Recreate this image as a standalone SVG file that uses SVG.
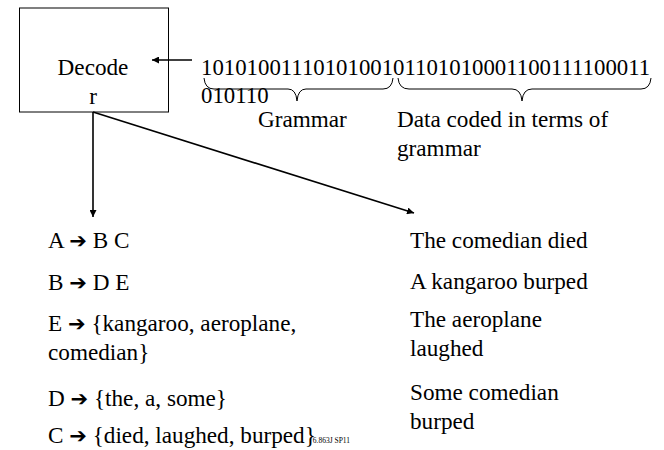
<svg xmlns="http://www.w3.org/2000/svg" width="664" height="450" viewBox="0 0 664 450" font-family="'Liberation Serif', 'Times New Roman', serif">
<style>
text{font-family:"Liberation Serif","Times New Roman",Tinos,serif;font-size:23.2px;fill:#000}
.bits{font-size:22.8px}
.ar{font-family:"DejaVu Sans",sans-serif;font-size:21px}
.sm{font-size:7.5px}
.ln{stroke:#000;stroke-width:1.6;fill:none}
.br{stroke:#000;stroke-width:1;fill:none}
</style>
<defs>
<marker id="ah" viewBox="0 0 10 10" refX="10" refY="5" markerWidth="7" markerHeight="7" markerUnits="userSpaceOnUse" orient="auto">
<path d="M0,0 L10,5 L0,10 z" fill="#000"/>
</marker>
</defs>
<g id="decoder">
<rect x="19.5" y="8" width="149" height="104" fill="#fff" stroke="#000" stroke-width="1"/>
<text x="93" y="75" text-anchor="middle">Decode</text>
<text x="93" y="104" text-anchor="middle">r</text>
</g>
<g id="bitstring">
<text class="bits" x="201" y="75">1010100111010100101101010001100111100011</text>
<text class="bits" x="201" y="103">010110</text>
<path class="br" d="M204,78 Q205,89 214,89 L288,89 Q296,89 297,101 Q298,89 306,89 L383,89 Q392,89 393,78"/>
<path class="br" d="M398,78 Q399,89 409,89 L512,89 Q521,89 522,101 Q523,89 532,89 L641,89 Q650,89 651,78"/>
<text x="258" y="127">Grammar</text>
<text x="397" y="127">Data coded in terms of</text>
<text x="397" y="156">grammar</text>
</g>
<g id="connectors">
<line class="ln" x1="192" y1="60" x2="152" y2="60" marker-end="url(#ah)"/>
<line class="ln" x1="93" y1="112" x2="93" y2="217" marker-end="url(#ah)"/>
<line class="ln" x1="93" y1="112" x2="414" y2="213" marker-end="url(#ah)"/>
</g>
<g id="grammar">
<text x="48" y="248">A <tspan class="ar">➔</tspan> B C</text>
<text x="48" y="290">B <tspan class="ar">➔</tspan> D E</text>
<text x="48" y="331">E <tspan class="ar">➔</tspan> {kangaroo, aeroplane,</text>
<text x="48" y="360">comedian}</text>
<text x="48" y="406">D <tspan class="ar">➔</tspan> {the, a, some}</text>
<text x="48" y="443">C <tspan class="ar">➔</tspan> {died, laughed, burped}<tspan class="sm" dx="-3">6.863J SP11</tspan></text>
</g>
<g id="sentences">
<text x="410" y="248">The comedian died</text>
<text x="410" y="289">A kangaroo burped</text>
<text x="410" y="327">The aeroplane</text>
<text x="410" y="356">laughed</text>
<text x="410" y="400">Some comedian</text>
<text x="410" y="429">burped</text>
</g>
</svg>
